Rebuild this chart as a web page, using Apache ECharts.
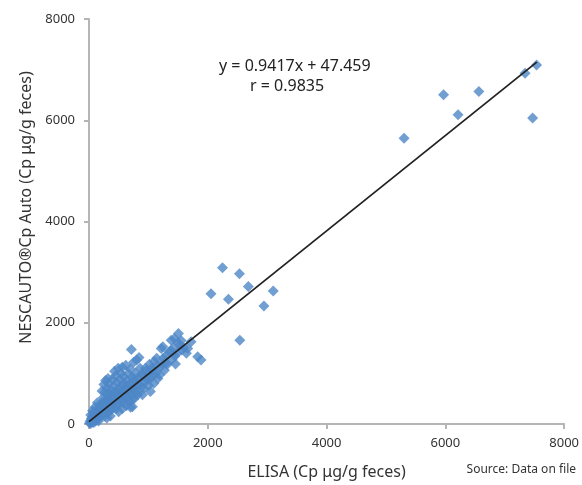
<!DOCTYPE html>
<html><head><meta charset="utf-8">
<script src="https://cdn.jsdelivr.net/npm/echarts@6/dist/echarts.min.js"></script>
<style>html,body{margin:0;padding:0;background:#fff}#c{width:582px;height:485px}</style>
</head><body><div id="c"></div>
<script>
const xTicks = [0, 2000, 4000, 6000, 8000];
const yTicks = [0, 2000, 4000, 6000, 8000];
const slope = 0.9417;
const intercept = 47.459;
const fitRange = [0, 7540];
const points = [
[10,20],[20,60],[30,10],[40,110],[50,40],[60,150],[70,80],[80,30],[90,190],[100,120],[110,60],[120,240],[130,170],[140,90],[150,300],[160,210],[170,130],[180,360],[190,260],[200,170],[60,260],[100,330],[140,420],[30,180],
[210,420],[220,300],[230,220],[240,520],[250,360],[260,160],[270,620],[280,440],[290,300],[300,700],[310,520],[320,220],[330,800],[340,600],[350,380],[360,260],[370,680],[380,470],[390,880],[400,560],[220,650],[250,780],[280,860],[320,900],[300,120],[360,160],
[410,330],[420,750],[430,620],[440,460],[450,960],[460,300],[470,820],[480,560],[490,1100],[500,380],[510,700],[520,880],[530,470],[540,1000],[550,620],[560,300],[570,780],[580,940],[590,420],[600,560],[430,1040],[560,1120],[500,240],
[610,700],[620,1160],[630,360],[640,860],[650,520],[660,1000],[670,640],[680,440],[690,780],[700,1080],[710,580],[720,920],[730,340],[740,700],[750,1220],[760,500],[770,840],[780,640],[790,1000],[800,760],[714,1473],[803,1263],[700,330],
[820,580],[840,900],[842,1316],[860,1100],[880,720],[900,576],[910,960],[930,820],[949,1100],[970,870],[990,1000],[1000,760],[1020,1180],[1033,642],[1050,920],[1070,1060],[1090,800],[1100,1240],
[1120,1000],[1140,1300],[1160,900],[1188,969],[1200,1120],[1216,1493],[1240,1200],[1244,1527],[1270,1060],[1300,1350],[1320,1180],[1350,1420],[1384,1656],[1400,1280],[1420,1500],[1439,1690],[1456,1185],[1480,1400],[1506,1788],[1530,1560],[1560,1460],[1600,1500],[1662,1493],[1718,1625],[1640,1400],
[50,100],[80,220],[120,120],[160,60],[200,300],[240,240],[260,420],[300,350],[330,480],[350,560],[380,330],[400,420],[420,520],[450,640],[470,400],[500,660],[520,560],[550,460],[580,660],[600,800],[630,560],[660,760],[700,680],[720,480],[760,900],[800,600],[850,780],[880,980],[920,700],[960,1050],[1000,900],[1050,1100],[1100,980],[1150,1150],[1250,1300],[1300,1200],[1380,1450],[1450,1350],[1500,1600],[1550,1650],
[1830,1330],[1886,1264],
[2248,3084],[2533,2967],[2054,2574],[2348,2462],[2683,2717],[3102,2627],[2946,2332],[2539,1656],
[5305,5644],[5970,6503],[6214,6110],[6565,6568],[7342,6929],[7536,7092],[7470,6045]
];
const fitLine = fitRange.map(x => [x, slope * x + intercept]);

const chart = echarts.init(document.getElementById('c'), null, {renderer:'canvas'});
const font = 'Noto Sans, Open Sans, sans-serif';
chart.setOption({
  animation:false,
  backgroundColor:'#fff',
  grid:{left:89, right:15, top:19, bottom:58},
  xAxis:{type:'value', min:xTicks[0], max:xTicks[xTicks.length-1], interval:2000,
    axisLine:{lineStyle:{color:'#b5b5b5', width:2}},
    axisTick:{show:true, length:5, lineStyle:{color:'#b5b5b5', width:2}},
    axisLabel:{color:'#333', fontSize:13, fontFamily:font, margin:13, formatter:v=>String(v)},
    splitLine:{show:false},
    name:'ELISA (Cp μg/g feces)', nameLocation:'middle', nameGap:40,
    nameTextStyle:{color:'#333', fontSize:16, fontFamily:font}
  },
  yAxis:{type:'value', min:yTicks[0], max:yTicks[yTicks.length-1], interval:2000,
    axisLine:{show:true, lineStyle:{color:'#b5b5b5', width:2}},
    axisTick:{show:true, length:5, lineStyle:{color:'#b5b5b5', width:2}},
    axisLabel:{color:'#333', fontSize:13, fontFamily:font, margin:14, formatter:v=>String(v)},
    splitLine:{show:false},
    name:'NESCAUTO®Cp Auto (Cp μg/g feces)', nameLocation:'middle', nameGap:50,
    nameTextStyle:{color:'#333', fontSize:16, fontFamily:font, padding:[0,0,0,28]}
  },
  series:[
    {type:'scatter', data:points, symbol:'diamond', symbolSize:11,
     itemStyle:{color:'#4d87c7'}, z:2},
    {type:'line', data:fitLine, symbol:'none', lineStyle:{color:'#222', width:1.8}, z:3}
  ],
  graphic:[
    {type:'text', left:219, top:58, style:{text:'y = 0.9417x + 47.459', fill:'#222', font:'16px '+font}},
    {type:'text', left:250, top:78, style:{text:'r = 0.9835', fill:'#222', font:'16px '+font}},
    {type:'text', right:6, top:464, style:{text:'Source: Data on file', fill:'#333', font:'12px '+font}}
  ]
});
</script></body></html>
